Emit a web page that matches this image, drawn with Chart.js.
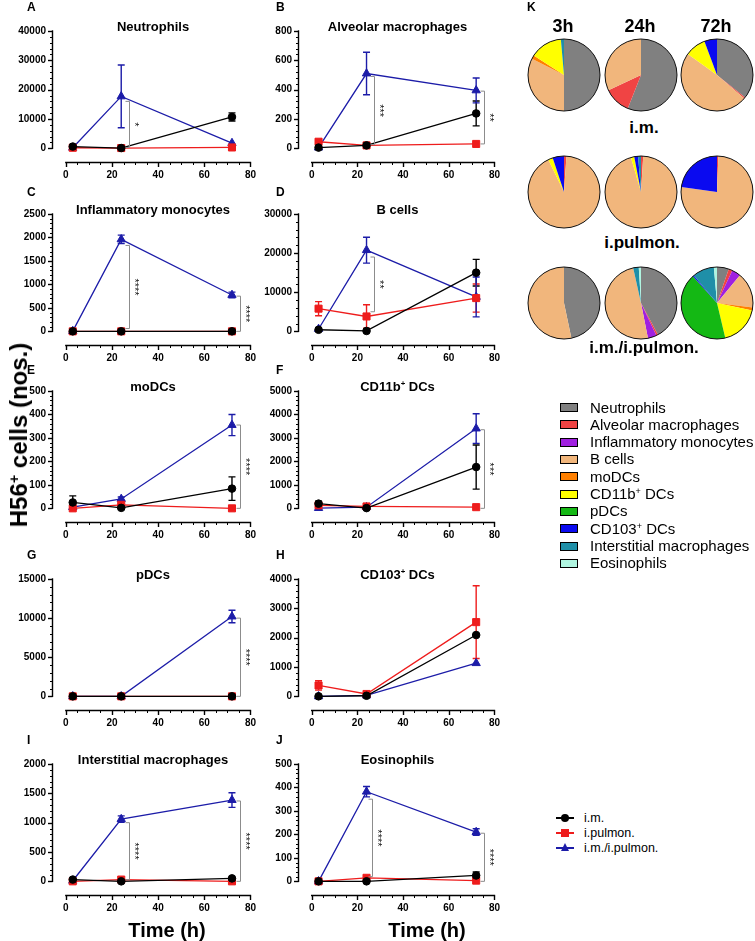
<!DOCTYPE html>
<html><head><meta charset="utf-8">
<script src="https://cdn.jsdelivr.net/npm/chart.js@4/dist/chart.umd.min.js"></script>
<style>
body{margin:0;background:#fff;width:755px;height:941px;position:relative;overflow:hidden;font-family:"Liberation Sans",Arial,sans-serif;}
canvas{position:absolute;}
.t{position:absolute;white-space:nowrap;font-weight:bold;color:#000;line-height:1;}
.c{transform:translate(-50%,-50%);}
sup{font-size:60%;vertical-align:0.55em;line-height:0;}
</style></head><body>
<script>
// ---------------- DATA ----------------
const hours = [3, 24, 72];
const xTicks = [0, 20, 40, 60, 80];
const seriesNames = ['i.m.', 'i.pulmon.', 'i.m./i.pulmon.'];

// A Neutrophils
const A_ticks = [0, 10000, 20000, 30000, 40000];
const A_im = [600, 100, 10700],   A_imErr = [300, 0, 1400];
const A_ip = [200, 100, 300],     A_ipErr = [0, 0, 0];
const A_both = [200, 17700, 1800], A_bothErr = [0, 10700, 0];
const A_sig = [[27.3, 16000, 300, '*']];
// B Alveolar macrophages
const B_ticks = [0, 200, 400, 600, 800];
const B_im = [5, 20, 238],   B_imErr = [0, 0, 85];
const B_ip = [45, 20, 30],   B_ipErr = [15, 0, 0];
const B_both = [5, 510, 395], B_bothErr = [0, 145, 85];
const B_sig = [[27.3, 490, 25, '***'], [75.5, 390, 30, '**']];
// C Inflammatory monocytes
const C_ticks = [0, 500, 1000, 1500, 2000, 2500];
const C_im = [0, 0, 0],  C_imErr = [0, 0, 0];
const C_ip = [0, 0, 0],  C_ipErr = [0, 0, 0];
const C_both = [5, 1960, 775], C_bothErr = [0, 90, 60];
const C_sig = [[27.3, 1830, 60, '****'], [75.5, 750, 0, '****']];
// D B cells
const D_ticks = [0, 10000, 20000, 30000];
const D_im = [400, 100, 15000],  D_imErr = [0, 0, 3400];
const D_ip = [5800, 3800, 8500], D_ipErr = [1800, 3000, 3600];
const D_both = [600, 20750, 8800], D_bothErr = [0, 3300, 5100];
const D_sig = [[27.3, 19000, 5000, '**']];
// E moDCs
const E_ticks = [0, 100, 200, 300, 400, 500];
const E_im = [25, 2, 84],  E_imErr = [28, 0, 50];
const E_ip = [0, 15, 0],   E_ipErr = [0, 0, 0];
const E_both = [5, 40, 355], E_bothErr = [0, 8, 45];
const E_sig = [[75.5, 355, 0, '****']];
// F CD11b+ DCs
const F_ticks = [0, 1000, 2000, 3000, 4000, 5000];
const F_im = [200, 10, 1760], F_imErr = [100, 0, 940];
const F_ip = [130, 80, 50],   F_ipErr = [0, 0, 0];
const F_both = [10, 50, 3400], F_bothErr = [0, 0, 630];
const F_sig = [[75.5, 3350, 0, '***']];
// G pDCs
const G_ticks = [0, 5000, 10000, 15000];
const G_im = [0, 0, 0], G_imErr = [0, 0, 0];
const G_ip = [0, 0, 0], G_ipErr = [0, 0, 0];
const G_both = [0, 0, 10200], G_bothErr = [0, 0, 800];
const G_sig = [[75.5, 10000, 0, '****']];
// H CD103+ DCs
const H_ticks = [0, 1000, 2000, 3000, 4000];
const H_im = [0, 20, 2090],   H_imErr = [0, 0, 0];
const H_ip = [370, 80, 2530], H_ipErr = [160, 0, 1240];
const H_both = [0, 30, 1130], H_bothErr = [0, 0, 0];
const H_sig = [];
// I Interstitial macrophages
const I_ticks = [0, 500, 1000, 1500, 2000];
const I_im = [30, 0, 50], I_imErr = [0, 0, 0];
const I_ip = [0, 30, 0],  I_ipErr = [0, 0, 0];
const I_both = [10, 1060, 1385], I_bothErr = [0, 55, 125];
const I_sig = [[27.3, 1000, 30, '****'], [75.5, 1370, 0, '****']];
// J Eosinophils
const J_ticks = [0, 100, 200, 300, 400, 500];
const J_im = [0, 0, 25], J_imErr = [0, 0, 15];
const J_ip = [0, 15, 3], J_ipErr = [0, 0, 0];
const J_both = [0, 382, 210], J_bothErr = [0, 22, 14];
const J_sig = [[26.5, 350, 20, '****'], [75.5, 205, 0, '****']];

// K pie charts (% of H56+ cells), order = cell types below
const cellTypes = ['Neutrophils', 'Alveolar macrophages', 'Inflammatory monocytes', 'B cells', 'moDCs',
  'CD11b<sup>+</sup> DCs', 'pDCs', 'CD103<sup>+</sup> DCs', 'Interstitial macrophages', 'Eosinophils'];
const timeLabels = ['3h', '24h', '72h'];
const routeLabels = ['i.m.', 'i.pulmon.', 'i.m./i.pulmon.'];
const pie_im_3h   = [50, 0, 0, 32.5, 1.6, 14.5, 0, 0, 1.4, 0];
const pie_im_24h  = [56, 12, 0, 32, 0, 0, 0, 0, 0, 0];
const pie_im_72h  = [35.8, 0.5, 0, 48.6, 0, 9.4, 0, 5.7, 0, 0];
const pie_ip_3h   = [0, 1.1, 0, 91.7, 0, 2.1, 0, 5.1, 0, 0];
const pie_ip_24h  = [0, 1, 0, 94.5, 0, 1.5, 0, 1.7, 1.3, 0];
const pie_ip_72h  = [0, 0.6, 0, 76.6, 0, 0, 0, 22.8, 0, 0];
const pie_both_3h  = [46.7, 0, 0, 53.3, 0, 0, 0, 0, 0, 0];
const pie_both_24h = [42.2, 0.8, 3.9, 49.6, 0, 0, 0, 0, 2.5, 1];
const pie_both_72h = [5.3, 1.7, 4, 16, 1.3, 18, 42, 0.6, 9.7, 1.4];

// ---------------- STYLE ----------------
const BLACK = '#000000', RED = '#ee1c1c', BLUE = '#1c1ca8';
const PIE_COLORS = ['#808080', '#f04444', '#a020e0', '#f1b67c', '#ff8000', '#ffff00', '#14b814', '#0a0af0', '#1f8fa8', '#b0f5e0'];
Chart.defaults.font.family = '"Liberation Sans", Arial, sans-serif';
Chart.defaults.color = '#000';
Chart.defaults.animation = false;

const COLS = [{x0: 0, axis: 52, right: 254, w: 262}, {x0: 256, axis: 298, right: 497, w: 250}];
const ROWS = [{top: 29, xaxis: 163}, {top: 212, xaxis: 346}, {top: 389, xaxis: 523}, {top: 577, xaxis: 711}, {top: 762, xaxis: 896}];

const panels = [
  {L: 'A', title: 'Neutrophils', ticks: A_ticks, im: A_im, imE: A_imErr, ip: A_ip, ipE: A_ipErr, both: A_both, bothE: A_bothErr, sig: A_sig},
  {L: 'B', title: 'Alveolar macrophages', ticks: B_ticks, im: B_im, imE: B_imErr, ip: B_ip, ipE: B_ipErr, both: B_both, bothE: B_bothErr, sig: B_sig},
  {L: 'C', title: 'Inflammatory monocytes', ticks: C_ticks, im: C_im, imE: C_imErr, ip: C_ip, ipE: C_ipErr, both: C_both, bothE: C_bothErr, sig: C_sig},
  {L: 'D', title: 'B cells', ticks: D_ticks, im: D_im, imE: D_imErr, ip: D_ip, ipE: D_ipErr, both: D_both, bothE: D_bothErr, sig: D_sig},
  {L: 'E', title: 'moDCs', ticks: E_ticks, im: E_im, imE: E_imErr, ip: E_ip, ipE: E_ipErr, both: E_both, bothE: E_bothErr, sig: E_sig},
  {L: 'F', title: 'CD11b<sup>+</sup> DCs', ticks: F_ticks, im: F_im, imE: F_imErr, ip: F_ip, ipE: F_ipErr, both: F_both, bothE: F_bothErr, sig: F_sig},
  {L: 'G', title: 'pDCs', ticks: G_ticks, im: G_im, imE: G_imErr, ip: G_ip, ipE: G_ipErr, both: G_both, bothE: G_bothErr, sig: G_sig},
  {L: 'H', title: 'CD103<sup>+</sup> DCs', ticks: H_ticks, im: H_im, imE: H_imErr, ip: H_ip, ipE: H_ipErr, both: H_both, bothE: H_bothErr, sig: H_sig},
  {L: 'I', title: 'Interstitial macrophages', ticks: I_ticks, im: I_im, imE: I_imErr, ip: I_ip, ipE: I_ipErr, both: I_both, bothE: I_bothErr, sig: I_sig},
  {L: 'J', title: 'Eosinophils', ticks: J_ticks, im: J_im, imE: J_imErr, ip: J_ip, ipE: J_ipErr, both: J_both, bothE: J_bothErr, sig: J_sig}
];

// ---------------- PLUGINS ----------------
const axisPlugin = {
  id: 'prismAxes',
  afterDraw(chart, args, o) {
    const ctx = chart.ctx, xs = chart.scales.x, ys = chart.scales.y, ca = chart.chartArea;
    ctx.save();
    ctx.strokeStyle = '#000'; ctx.lineWidth = 1.4; ctx.lineCap = 'butt';
    const ln = (a, b, c, d) => { ctx.beginPath(); ctx.moveTo(a, b); ctx.lineTo(c, d); ctx.stroke(); };
    const ax = Math.round(ca.left) + 0.5;
    ln(ax, ys.getPixelForValue(0) + 0.7, ax, ys.getPixelForValue(o.yMax) - 0.7);
    const minor = o.yStep / 5;
    for (let v = 0; v <= o.yMax + 1e-9; v += minor) {
      const py = Math.round(ys.getPixelForValue(v)) + 0.5;
      const isMaj = Math.abs(v / o.yStep - Math.round(v / o.yStep)) < 1e-6;
      ctx.lineWidth = isMaj ? 1.4 : 1;
      ln(ax - (isMaj ? 4.5 : 2.5), py, ax, py);
    }
    ctx.lineWidth = 1.4;
    const ay = Math.round(ca.bottom) - 0.5;
    ln(xs.getPixelForValue(0) - 0.7, ay, xs.getPixelForValue(80) + 0.7, ay);
    for (let v = 0; v <= 80; v += 5) {
      const px = Math.round(xs.getPixelForValue(v)) + 0.5;
      const isMaj = v % 20 === 0;
      ctx.lineWidth = isMaj ? 1.4 : 1;
      ln(px, ay, px, ay + (isMaj ? 4.5 : 2.5));
    }
    ctx.restore();
  }
};
const errPlugin = {
  id: 'errBars',
  beforeDatasetsDraw(chart) {
    const ctx = chart.ctx, ys = chart.scales.y;
    ctx.save();
    chart.data.datasets.forEach((ds, di) => {
      const meta = chart.getDatasetMeta(di);
      ctx.strokeStyle = ds.borderColor; ctx.lineWidth = 1.4;
      ds.errors.forEach((e, i) => {
        if (!e) return;
        const v = ds.data[i].y, px = meta.data[i].x;
        const t = ys.getPixelForValue(v + e), b = ys.getPixelForValue(v - e);
        ctx.beginPath();
        ctx.moveTo(px, t); ctx.lineTo(px, b);
        ctx.moveTo(px - 3.5, t); ctx.lineTo(px + 3.5, t);
        ctx.moveTo(px - 3.5, b); ctx.lineTo(px + 3.5, b);
        ctx.stroke();
      });
    });
    ctx.restore();
  }
};
const bracketPlugin = {
  id: 'brackets',
  afterDatasetsDraw(chart, args, o) {
    const ctx = chart.ctx, xs = chart.scales.x, ys = chart.scales.y;
    ctx.save();
    (o.items || []).forEach(([x, y1, y2, lab]) => {
      const px = Math.round(xs.getPixelForValue(x)) + 0.5;
      const t = ys.getPixelForValue(y1), b = ys.getPixelForValue(y2);
      ctx.strokeStyle = '#8c8c8c'; ctx.lineWidth = 1;
      ctx.beginPath();
      ctx.moveTo(px - 4, t); ctx.lineTo(px, t); ctx.lineTo(px, b); ctx.lineTo(px - 4, b);
      ctx.stroke();
      ctx.save();
      ctx.translate(px + 2, (t + b) / 2);
      ctx.rotate(Math.PI / 2);
      ctx.fillStyle = '#111';
      ctx.font = '11px "Liberation Sans", Arial, sans-serif';
      ctx.textAlign = 'center'; ctx.textBaseline = 'bottom';
      ctx.fillText(lab, 0, 3);
      ctx.restore();
    });
    ctx.restore();
  }
};
const pieOutline = {
  id: 'pieOutline',
  afterDraw(chart) {
    const a = chart.getDatasetMeta(0).data[0];
    const ctx = chart.ctx;
    ctx.save(); ctx.strokeStyle = '#111'; ctx.lineWidth = 1;
    ctx.beginPath(); ctx.arc(a.x, a.y, a.outerRadius, 0, Math.PI * 2); ctx.stroke();
    ctx.restore();
  }
};

// ---------------- BUILD ----------------
function addText(html, x, y, size, opts = {}) {
  const d = document.createElement('div');
  d.className = 't' + (opts.left ? '' : ' c');
  d.innerHTML = html;
  d.style.left = x + 'px'; d.style.top = (opts.left ? y - size / 2 : y) + 'px';
  d.style.fontSize = size + 'px';
  if (opts.normal) d.style.fontWeight = 'normal';
  if (opts.rot) d.style.transform = 'translate(-50%,-50%) rotate(-90deg)';
  document.body.appendChild(d);
  return d;
}
function ds(vals, errs, color, style, r) {
  return {
    data: hours.map((h, i) => ({x: h, y: vals[i]})), errors: errs,
    borderColor: color, backgroundColor: color, borderWidth: 1.3,
    pointStyle: style, pointRadius: r, pointBorderWidth: 1,
    pointBackgroundColor: color, pointBorderColor: color, clip: false, tension: 0
  };
}
panels.forEach((p, k) => {
  const col = COLS[k % 2], row = ROWS[Math.floor(k / 2)];
  const padTop = 10, xH = 24;
  const cv = document.createElement('canvas');
  cv.width = col.w; cv.height = row.xaxis - row.top + padTop + xH;
  cv.style.left = col.x0 + 'px'; cv.style.top = (row.top - padTop) + 'px';
  document.body.appendChild(cv);
  const yMax = p.ticks[p.ticks.length - 1];
  const tickFont = {size: 10, weight: 'bold'};
  new Chart(cv, {
    type: 'line',
    data: {datasets: [
      ds(p.im, p.imE, BLACK, 'circle', 3.8),
      ds(p.ip, p.ipE, RED, 'rect', 5),
      ds(p.both, p.bothE, BLUE, 'triangle', 4.8)
    ]},
    options: {
      responsive: false, animation: false, events: [],
      layout: {padding: {top: padTop, right: col.w - (col.right - col.x0), left: 0, bottom: 0}},
      scales: {
        x: {type: 'linear', min: -6, max: 80,
          afterFit(s) { s.height = xH; },
          afterBuildTicks(s) { s.ticks = xTicks.map(v => ({value: v})); },
          grid: {display: false, drawTicks: false}, border: {display: false},
          ticks: {padding: 6, font: tickFont, color: '#000', autoSkip: false, maxRotation: 0, callback: v => String(v)}},
        y: {type: 'linear', min: -yMax / 8, max: yMax,
          afterFit(s) { s.width = col.axis - col.x0; },
          afterBuildTicks(s) { s.ticks = p.ticks.map(v => ({value: v})); },
          grid: {display: false, drawTicks: false}, border: {display: false},
          ticks: {padding: 6, font: tickFont, color: '#000', autoSkip: false, callback: v => String(v)}}
      },
      plugins: {legend: {display: false}, tooltip: {enabled: false},
        prismAxes: {yMax: yMax, yStep: p.ticks[1]}, brackets: {items: p.sig}}
    },
    plugins: [axisPlugin, errPlugin, bracketPlugin]
  });
  addText(p.title, (col.axis + col.right) / 2, row.top - 3.5, 13);
  addText(p.L, k % 2 ? 276 : 27, [7, 192, 370, 555, 740][Math.floor(k / 2)], 12, {left: true});
});

// pies
const pieSets = [pie_im_3h, pie_im_24h, pie_im_72h, pie_ip_3h, pie_ip_24h, pie_ip_72h, pie_both_3h, pie_both_24h, pie_both_72h];
const pieCX = [564, 641, 717], pieCY = [75, 192, 303];
pieSets.forEach((vals, k) => {
  const cx = pieCX[k % 3], cy = pieCY[Math.floor(k / 3)];
  const cv = document.createElement('canvas');
  cv.width = 76; cv.height = 76;
  cv.style.left = (cx - 38) + 'px'; cv.style.top = (cy - 38) + 'px';
  document.body.appendChild(cv);
  new Chart(cv, {
    type: 'pie',
    data: {labels: cellTypes.map(s => s.replace(/<\/?sup>/g, '')), datasets: [{data: vals, backgroundColor: PIE_COLORS, borderWidth: 0}]},
    options: {responsive: false, animation: false, events: [], layout: {padding: 2},
      plugins: {legend: {display: false}, tooltip: {enabled: false}}},
    plugins: [pieOutline]
  });
});
addText('K', 527, 7, 12, {left: true});
timeLabels.forEach((t, i) => addText(t, pieCX[i] - 1, 26, 18));
addText(routeLabels[0], 644, 127, 17);
addText(routeLabels[1], 642, 242, 17);
addText(routeLabels[2], 644, 347, 17);

// pie legend
cellTypes.forEach((name, i) => {
  const y = 407 + i * 17.33;
  const b = document.createElement('div');
  b.style.cssText = `position:absolute;left:560px;top:${y - 4}px;width:16px;height:7px;background:${PIE_COLORS[i]};border:1px solid #000;`;
  document.body.appendChild(b);
  addText(name, 590, y, 15, {left: true, normal: true});
});

// series legend
const legColors = [BLACK, RED, BLUE];
seriesNames.forEach((n, i) => {
  const y = 818 + i * 15;
  const l = document.createElement('div');
  l.style.cssText = `position:absolute;left:556px;top:${y - 0.6}px;width:18px;height:1.3px;background:${legColors[i]};`;
  document.body.appendChild(l);
  const m = document.createElement('div');
  if (i === 0) m.style.cssText = `position:absolute;left:561px;top:${y - 4}px;width:8px;height:8px;border-radius:50%;background:#000;`;
  if (i === 1) m.style.cssText = `position:absolute;left:561px;top:${y - 4}px;width:8px;height:8px;background:${RED};`;
  if (i === 2) m.style.cssText = `position:absolute;left:560.5px;top:${y - 5}px;width:0;height:0;border-left:4.5px solid transparent;border-right:4.5px solid transparent;border-bottom:8px solid ${BLUE};`;
  document.body.appendChild(m);
  addText(n, 584, y, 12.5, {left: true, normal: true});
});

// axis titles
addText('H56<sup>+</sup> cells (nos.)', 19, 435, 24, {rot: true});
addText('Time (h)', 167, 930, 20);
addText('Time (h)', 427, 930, 20);
</script>
</body></html>
